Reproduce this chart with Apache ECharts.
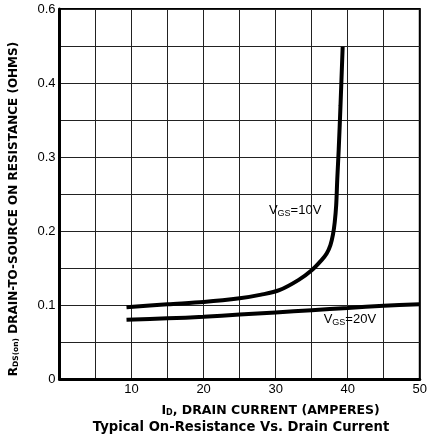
<!DOCTYPE html>
<html>
<head>
<meta charset="utf-8">
<script src="https://cdn.jsdelivr.net/npm/echarts@6/dist/echarts.min.js"></script>
<style>
  html, body { margin: 0; padding: 0; background: #fff; }
  #chart { width: 430px; height: 444px; }
</style>
</head>
<body>
<div id="chart"></div>
<script>
// values (I_D in A, R in ohms on the drawn scale)
const vgs10 = [
  [9.3, 0.097], [15, 0.101], [20, 0.104], [25, 0.109], [28, 0.114],
  [30.5, 0.120], [33.2, 0.134], [35, 0.147], [36.4, 0.161], [37.1, 0.170],
  [37.6, 0.181], [37.95, 0.195], [38.2, 0.212], [38.4, 0.235], [38.55, 0.27],
  [38.75, 0.31], [39.0, 0.37], [39.3, 0.449]
]
const vgs20 = [
  [9.3, 0.080], [15, 0.082], [20, 0.084], [25, 0.087], [30, 0.090],
  [35, 0.093], [40, 0.096], [45, 0.099], [50, 0.101]
]
const xTickLabels = ['', '10', '20', '30', '40', '50']
const yTickLabels = ['0', '0.1', '0.2', '0.3', '0.4', '0.6']

const font = '"Liberation Sans", Arial, Helvetica, sans-serif'
const boldFont = '"DejaVu Sans", Verdana, sans-serif'

const chart = echarts.init(document.getElementById('chart'), null, { renderer: 'canvas' })

const lineStyle = { color: '#000', width: 4 }
const gridLine = { show: true, lineStyle: { color: '#222', width: 1 } }

function curveLabel (txt) {
  return {
    show: true,
    position: 'inside',
    formatter: '{v|V}{s|GS}{v|=' + txt + '}',
    rich: {
      v: { fontFamily: font, fontSize: 13, color: '#000' },
      s: { fontFamily: font, fontSize: 9, color: '#000', padding: [6, 0, 0, 0] }
    }
  }
}

chart.setOption({
  backgroundColor: '#fff',
  animation: false,
  title: {
    text: 'Typical On-Resistance Vs. Drain Current',
    left: 236,
    textAlign: 'center',
    top: 416,
    textStyle: { fontFamily: boldFont, fontSize: 13.2, fontWeight: 'bold', color: '#000' }
  },
  grid: {
    left: 54, right: 6, top: 9, bottom: 65,
    show: true, borderColor: '#000', borderWidth: 2, backgroundColor: 'transparent'
  },
  xAxis: {
    type: 'value',
    min: 0, max: 50, interval: 10,
    axisLine: { show: true, lineStyle: { color: '#000', width: 3 } },
    axisTick: { show: false },
    splitLine: gridLine,
    minorTick: { show: false, splitNumber: 2 },
    minorSplitLine: gridLine,
    axisLabel: {
      margin: 4,
      color: '#000', fontFamily: font, fontSize: 13,
      formatter: v => xTickLabels[Math.round(v / 10)]
    },
    name: '{i|I}{s|D}{t|, DRAIN CURRENT (AMPERES)}',
    nameLocation: 'middle',
    nameGap: 25,
    nameTextStyle: {
      padding: [0, 0, 0, 62],
      rich: {
        i: { fontFamily: boldFont, fontSize: 12.5, fontWeight: 'bold', color: '#000' },
        s: { fontFamily: boldFont, fontSize: 8, fontWeight: 'bold', color: '#000', padding: [5, 0, 0, 0] },
        t: { fontFamily: boldFont, fontSize: 12.5, fontWeight: 'bold', color: '#000' }
      }
    }
  },
  yAxis: {
    type: 'value',
    min: 0, max: 0.5, interval: 0.1,
    axisLine: { show: true, lineStyle: { color: '#000', width: 3 } },
    axisTick: { show: false },
    splitLine: gridLine,
    minorTick: { show: false, splitNumber: 2 },
    minorSplitLine: gridLine,
    axisLabel: {
      margin: 4,
      color: '#000', fontFamily: font, fontSize: 13,
      formatter: v => yTickLabels[Math.round(v * 10)]
    },
    name: '{r|R}{s|DS(on)}{t| DRAIN-TO-SOURCE ON RESISTANCE (OHMS)}',
    nameLocation: 'middle',
    nameRotate: 90,
    nameGap: 39,
    nameTextStyle: {
      padding: [0, 30, 0, 0],
      rich: {
        r: { fontFamily: boldFont, fontSize: 12, fontWeight: 'bold', color: '#000' },
        s: { fontFamily: boldFont, fontSize: 7.5, fontWeight: 'bold', color: '#000', padding: [5, 0, 0, 0] },
        t: { fontFamily: boldFont, fontSize: 12, fontWeight: 'bold', color: '#000' }
      }
    }
  },
  series: [
    {
      name: 'VGS=10V',
      type: 'line',
      data: vgs10,
      symbol: 'none',
      smooth: 0.3,
      lineStyle: lineStyle,
      markPoint: {
        symbol: 'circle',
        symbolSize: 1,
        itemStyle: { color: 'transparent' },
        data: [{ coord: [32.7, 0.228] }],
        label: curveLabel('10V')
      }
    },
    {
      name: 'VGS=20V',
      type: 'line',
      data: vgs20,
      symbol: 'none',
      smooth: 0.3,
      lineStyle: lineStyle,
      markPoint: {
        symbol: 'circle',
        symbolSize: 1,
        itemStyle: { color: 'transparent' },
        data: [{ coord: [40.3, 0.080] }],
        label: curveLabel('20V')
      }
    }
  ]
})
</script>
</body>
</html>
